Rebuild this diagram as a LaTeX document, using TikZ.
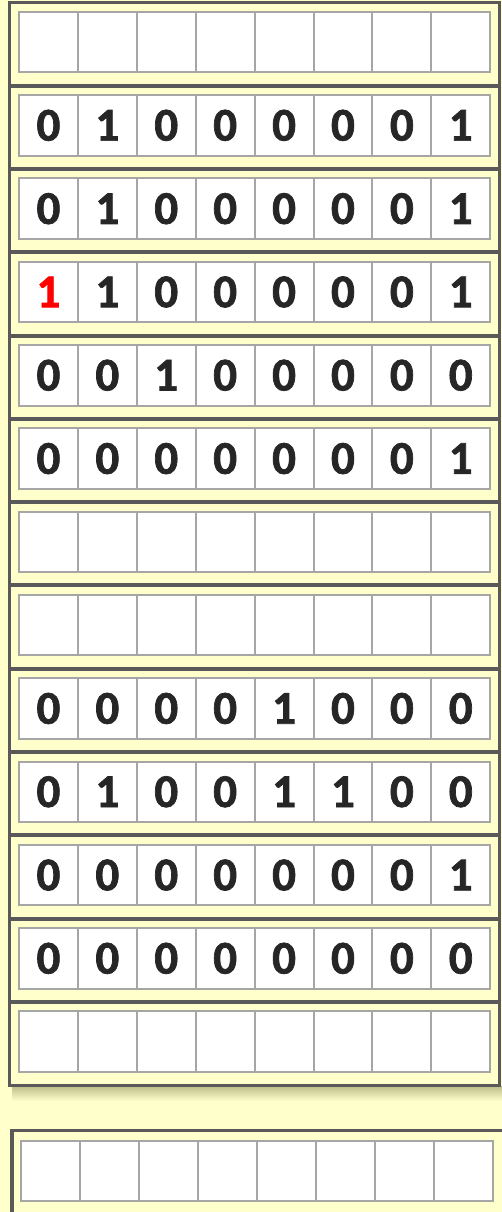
\documentclass[tikz,border=0pt]{standalone}
\usepackage{fontspec}
\setmainfont{Carlito}[BoldFeatures={FakeBold=1.5}]
\definecolor{bgy}{HTML}{FFFFCC}
\definecolor{framec}{HTML}{595959}
\definecolor{cellline}{HTML}{A6A6A6}
\definecolor{digit}{HTML}{262626}
\definecolor{shadowc}{RGB}{190,190,140}
\definecolor{hot}{HTML}{FF0000}
\begin{document}
\begin{tikzpicture}[x=1pt,y=-1pt]
\tikzset{
  cell/.style={draw=cellline, line width=2pt, fill=white, minimum width=58.9pt,
    minimum height=60.5pt, inner sep=0pt, font=\fontsize{47}{47}\selectfont\bfseries, text=digit},
  frameline/.style={draw=framec, line width=4pt}
}
\fill[bgy] (0,0) rectangle (502,1212);
\useasboundingbox (0,0) rectangle (502,1212);
% shadow of the main box
\shade[top color=shadowc, bottom color=bgy] (12,1086) rectangle (502,1101);
% main box
\fill[bgy] (9.5,2.3) rectangle (499.5,1085.5);
\draw[frameline, line width=3.5pt] (9.5,2.3) rectangle (499.5,1085.5);
\foreach \i in {1,...,12}
  \draw[frameline] (9.5,{2.3+83.3*\i}) -- (499.5,{2.3+83.3*\i});
% rows of cells
\foreach \r/\row in {
  1/{{},{},{},{},{},{},{},{}},
  2/{0,1,0,0,0,0,0,1},
  3/{0,1,0,0,0,0,0,1},
  4/{{\textcolor{hot}{1}},1,0,0,0,0,0,1},
  5/{0,0,1,0,0,0,0,0},
  6/{0,0,0,0,0,0,0,1},
  7/{{},{},{},{},{},{},{},{}},
  8/{{},{},{},{},{},{},{},{}},
  9/{0,0,0,0,1,0,0,0},
  10/{0,1,0,0,1,1,0,0},
  11/{0,0,0,0,0,0,0,1},
  12/{0,0,0,0,0,0,0,0},
  13/{{},{},{},{},{},{},{},{}}}{
  \foreach \v [count=\k] in \row
    \node[cell] (c\r-\k) at ({48.45+58.9*(\k-1)},{42.05+83.3*(\r-1)}) {\v};
}
% second box
\fill[bgy] (11.8,1130.3) rectangle (510,1220);
\draw[frameline, line width=3.5pt] (510,1130.3) -- (11.8,1130.3) -- (11.8,1220);
\foreach \k in {1,...,8}
  \node[cell] (d\k) at ({50.75+58.9*(\k-1)},1170.9) {};
\end{tikzpicture}
\end{document}
